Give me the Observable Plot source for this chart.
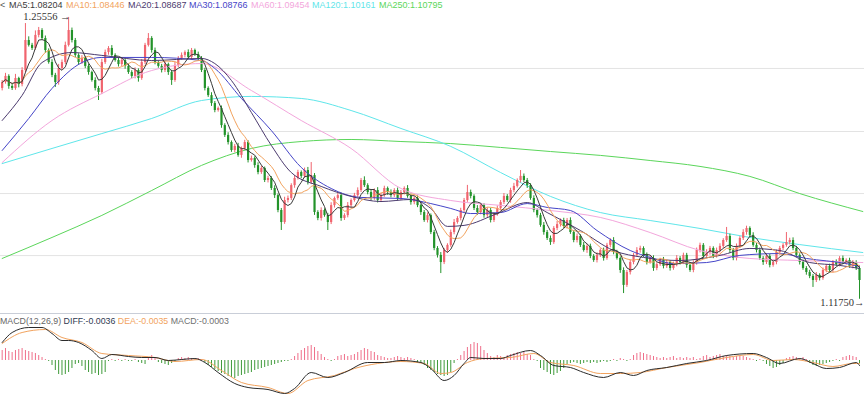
<!DOCTYPE html>
<html><head><meta charset="utf-8">
<script src="https://cdn.jsdelivr.net/npm/d3@7"></script>
<script src="https://cdn.jsdelivr.net/npm/@observablehq/plot@0.6"></script>
<style>
body{margin:0;background:#fff;}
#wrap{position:relative;width:864px;height:395px;overflow:hidden;font-family:"Liberation Sans",Arial,sans-serif;}
#main,#macd{width:864px;}
#macd{border-top:1px solid #c9ced8;}
svg{display:block;}
.lg{position:absolute;white-space:nowrap;}
#lgMain span{position:absolute;top:0;}
#lgMain{top:0;left:0;font-size:9px;line-height:10px;}
#lgMacd{top:316px;left:0;font-size:8.8px;line-height:10px;}
</style></head><body>
<div id="wrap">
  <div id="main"></div>
  <div id="macd"></div>
  <div class="lg" id="lgMain"></div>
  <div class="lg" id="lgMacd"></div>
</div>
<script>
// ---- price candles (units of 0.0001) ----
const firstOpen = 12208;
const closes = [
12237,12267,12218,12208,12257,12227,12296,12443,12419,12404,
12468,12492,12453,12394,12335,12272,12237,12306,12335,12419,
12492,12443,12370,12335,12355,12316,12286,12247,12208,12188,
12335,12384,12404,12370,12345,12325,12345,12316,12286,12267,
12296,12257,12335,12419,12453,12394,12335,12316,12296,12325,
12286,12247,12321,12355,12370,12384,12360,12394,12374,12355,
12296,12208,12173,12134,12100,12110,12026,11978,11943,11904,
11924,11880,11914,11943,11855,11865,11830,11796,11816,11757,
11767,11718,11683,11610,11551,11659,11669,11732,11767,11796,
11777,11806,11747,11781,11600,11571,11610,11585,11551,11634,
11669,11683,11571,11585,11634,11659,11683,11708,11757,11732,
11698,11669,11708,11659,11683,11718,11698,11683,11708,11669,
11698,11718,11679,11649,11669,11634,11600,11561,11585,11502,
11424,11390,11355,11414,11439,11502,11551,11571,11610,11659,
11698,11679,11620,11600,11634,11585,11610,11561,11590,11620,
11649,11679,11659,11708,11728,11757,11777,11757,11732,11669,
11610,11585,11537,11502,11473,11453,11522,11541,11561,11532,
11561,11502,11463,11483,11439,11414,11434,11385,11365,11390,
11414,11375,11439,11463,11404,11375,11316,11243,11306,11355,
11390,11414,11424,11390,11355,11375,11326,11345,11365,11336,
11355,11326,11345,11375,11355,11390,11341,11316,11355,11414,
11439,11385,11404,11424,11385,11414,11434,11463,11483,11414,
11375,11434,11473,11502,11522,11488,11439,11414,11375,11355,
11385,11341,11355,11404,11424,11439,11453,11463,11424,11390,
11355,11326,11306,11287,11267,11292,11277,11316,11336,11316,
11355,11345,11375,11355,11365,11336,11355,11326,11267];
const upperWick = [
10,15,8,12,20,6,14,83,18,10, 22,15,9,12,8,14,10,20,12,16, 64,12,10,8,14,9,11,7,13,10,
16,12,9,14,8,10,12,7,11,9, 13,8,15,10,24,9,12,8,10,14, 7,11,16,9,12,8,13,10,7,12,
9,11,8,14,10,7,12,9,13,8, 10,15,7,11,9,12,8,14,10,7, 11,9,13,8,10,16,12,9,14,11,
8,12,15,64,10,9,13,8,11,14, 7,10,12,9,15,8,11,13,10,18, 9,12,8,14,10,11,7,13,9,12,
10,8,14,11,9,12,7,10,13,8, 11,9,14,10,8,12,15,9,11,10, 35,12,8,14,10,9,13,11,8,12,
10,14,9,11,15,8,29,12,10,9, 13,8,11,14,10,12,9,15,8,11, 10,13,9,12,8,14,10,11,9,13,
8,12,10,9,14,11,8,13,10,12, 9,14,11,8,12,10,13,9,11,15, 10,8,12,14,9,11,10,13,8,12,
11,9,14,10,8,12,13,9,44,11, 10,12,9,14,11,8,13,10,12,9, 14,11,8,12,10,9,49,11,13,10,
8,12,9,11,10,14,8,12,9,11, 10,13,9,12,8,11,10,9,12];
const lowerWick = [
12,8,14,10,9,16,11,13,8,10, 9,12,10,14,8,11,24,13,9,10, 8,12,10,14,9,11,13,8,12,39,
10,9,13,11,8,12,10,14,9,11, 12,18,9,10,8,13,11,9,12,10, 14,24,9,11,8,12,10,13,9,11,
10,12,9,14,11,8,13,10,12,9, 11,9,14,10,12,8,13,11,9,10, 12,10,14,11,39,9,12,10,13,8,
11,9,12,10,14,11,13,8,39,10, 12,9,14,10,11,13,8,12,10,9, 11,13,9,12,10,8,14,11,9,12,
10,12,9,13,11,10,14,9,12,10, 11,13,54,10,12,9,11,8,12,10, 9,12,10,14,11,13,9,12,10,8,
12,10,9,13,11,8,12,10,14,9, 11,12,9,13,10,14,9,11,12,10, 13,9,11,12,10,8,14,11,9,12,
10,13,9,12,11,8,14,40,10,12, 11,9,13,10,12,8,14,11,9,12, 10,13,9,11,12,10,14,9,11,13,
12,10,9,13,11,8,12,10,9,14, 11,12,9,10,13,11,9,12,10,14, 10,12,9,11,13,10,9,12,11,10,
12,9,13,11,34,10,12,9,11,10, 12,9,11,10,13,9,12,10,92];

// ---- longer moving averages: [candle index, price*1e4] ----
const ma20 = [[0,12051],[6,12174],[12,12335],[21,12384],[30,12370],[45,12345],[60,12355],[64,12330],[69,12247],[75,12090],[81,11929],[87,11796],[96,11728],[105,11679],[114,11654],[123,11664],[129,11620],[134,11532],[139,11537],[149,11595],[158,11649],[164,11600],[174,11512],[184,11414],[193,11380],[204,11365],[216,11390],[225,11424],[234,11414],[243,11355],[252,11341],[258,11326]];
const ma30 = [[0,11904],[8,12061],[15,12208],[24,12335],[30,12360],[45,12360],[60,12345],[64,12306],[72,12159],[81,12002],[90,11821],[99,11718],[108,11674],[120,11669],[129,11644],[135,11620],[141,11595],[150,11600],[158,11644],[164,11625],[171,11610],[179,11512],[189,11414],[195,11380],[202,11350],[212,11355],[222,11390],[234,11399],[242,11375],[254,11350],[258,11336]];
const ma60 = [[0,11845],[15,12051],[30,12183],[45,12296],[60,12330],[75,12198],[90,12051],[105,11914],[120,11718],[135,11659],[150,11635],[165,11610],[180,11576],[195,11502],[210,11414],[225,11375],[240,11365],[259,11355]];
const ma120 = [[0,11840],[15,11914],[30,11987],[45,12061],[60,12149],[75,12169],[90,12159],[105,12100],[120,12012],[135,11924],[150,11796],[165,11679],[180,11600],[195,11561],[210,11522],[225,11478],[240,11443],[259,11404]];
const ma250 = [[0,11375],[15,11478],[30,11586],[45,11708],[60,11831],[75,11914],[90,11948],[105,11958],[120,11948],[135,11938],[150,11919],[165,11899],[180,11880],[195,11855],[210,11826],[225,11777],[240,11693],[259,11605]];
const gridLevels = [1.2306, 1.1997, 1.1693, 1.1389];
const highMark = {i: 20, price: 1.25556, label: "1.25556 →"};
const lowMark = {i: 258, price: 1.1175, label: "1.11750→"};

// ---- MACD (units of 0.0001) ----
const diffLine = [[0,126],[3,196],[8,231],[12,231],[15,189],[18,140],[20,140],[23,126],[27,70],[30,14],[33,42],[38,28],[42,21],[46,21],[50,0],[54,7],[58,14],[61,-14],[65,-84],[70,-161],[74,-189],[80,-203],[85,-231],[88,-196],[93,-84],[98,-119],[103,-84],[110,-14],[115,-14],[120,0],[126,-14],[129,-56],[133,-140],[136,-105],[139,-21],[141,21],[145,14],[150,14],[153,35],[159,70],[162,35],[166,-35],[171,-49],[175,-84],[181,-119],[186,-84],[190,-105],[194,-70],[200,-49],[206,-21],[212,0],[218,35],[226,49],[230,21],[234,-21],[240,14],[244,-21],[248,-56],[252,-49],[257,-14],[258,-35]];
const deaLine = [[0,119],[6,196],[13,217],[18,161],[24,126],[30,49],[38,35],[46,21],[52,-7],[60,7],[66,-70],[72,-154],[80,-189],[86,-231],[92,-140],[100,-105],[106,-56],[113,-21],[120,-7],[127,-21],[132,-91],[135,-84],[140,-14],[145,14],[153,21],[160,49],[165,-14],[172,-35],[180,-91],[186,-91],[192,-84],[200,-49],[210,-14],[218,21],[226,42],[232,0],[238,7],[244,-14],[250,-42],[256,-21],[258,-21]];
const macdHist = [
70,84,63,56,70,77,84,70,63,56,49,35,21, 7,-7, -35,-70,-98,-105,-98,-84, -56,-28,-21,
-42,-70,-84,-98,-91,-105,-98,-84, -7,7,-7,7,-7,7,-7,-7,7, -14,-21,-28, 21,35,21,
-14,-21,-28,-35,-21,-14, 14,21,14,21,14,7,14,7,
-14,-35,-49,-63,-77,-91,-98,-112,-119,-126,-112,-105,
-98,-91,-84,-70,-63,-56,-49,-42,-35,-28,-21,-14,-7, -7,7,
28,49,70,84,98,105,91, 63,42,21,7, -7,7, 28,35,42,28,35,42, 56,70,84,77,63,56,
35,28,21,14, 14,21,28,21,14,21,14,7, -14,-21,-35,-56,-70,-84,-98,-105, -112,-105,-84, -21,7,
35,63,91,112,126,119,98,70,49, 28,21,35,28,21, 35,42,49,56,49,56,42,35, 7,-7,
-56,-70,-84,-98,-105,-91,-77,-56, -28,-21,-14,-21,-28,-21,-14,-21,-14,-21,-14,-7,-14,-7,
7,-7,14,7,-7,7, 35,49,56,49,42,35,28,21, 14,21,14,21,28,14,21,14,21,14,21,7,
14,28,35,21,28,35,42,28,35,28,21,28,35,28,21,14, 7,-7,7,-7, -28,-42,-56,-49,-35,-21,
14,21,28,21,14,21,7, -21,-35,-42,-35,-28,-21,-14, -7,7,-7, 21,28,35,28,21, -21];

// ---- legend texts ----
const maLabels = ["MA5:1.08204","MA10:1.08446","MA20:1.08687","MA30:1.08766","MA60:1.09454","MA120:1.10161","MA250:1.10795"];
const maColors = ["#3a3a3a","#f2a35e","#4b3a6e","#4545c8","#f3a6dc","#5fe6ea","#5bd65b"];
const macdLabels = ["MACD(12,26,9)","DIFF:-0.0036","DEA:-0.0035","MACD:-0.0003"];
const macdColors = ["#666666","#2f3a52","#f2a35e","#707070"];
// layout (pixel offsets of legend items)
const maLegendLeft = [9, 66, 128, 189, 251, 312, 379];

const UP = "#f0646e", DOWN = "#23932a";
const candles = closes.map((c, i) => {
  const o = i ? closes[i - 1] : firstOpen;
  const top = Math.max(o, c), bot = Math.min(o, c);
  return {
    i, open: o / 1e4, close: c / 1e4,
    high: (top + upperWick[i]) / 1e4, low: (bot - lowerWick[i]) / 1e4,
    bHi: (top === bot ? top + 0.6 : top) / 1e4, bLo: bot / 1e4,
    color: c >= o ? UP : DOWN
  };
});
const toPts = arr => arr.map(([i, v]) => ({i, v: v / 1e4}));
const xDom = [-0.5, 259.5];
const maLine = (arr, color) => Plot.line(toPts(arr), {x: "i", y: "v", stroke: color, strokeWidth: 1, curve: "monotone-x"});
const markFont = "Liberation Serif, DejaVu Sans, serif";

const mainChart = Plot.plot({
  width: 864, height: 313, margin: 0,
  x: {domain: xDom, axis: null},
  y: {domain: [1.11053, 1.2639], axis: null},
  marks: [
    Plot.ruleY(gridLevels, {stroke: "#e3e3e3", strokeWidth: 1}),
    maLine(ma250, maColors[6]),
    maLine(ma120, maColors[5]),
    Plot.ruleX(candles, {x: "i", y1: "low", y2: "high", stroke: "color", strokeWidth: 1}),
    Plot.ruleX(candles, {x: "i", y1: "bLo", y2: "bHi", stroke: "color", strokeWidth: 2.2}),
    maLine(ma60, maColors[4]),
    maLine(ma30, maColors[3]),
    maLine(ma20, maColors[2]),
    Plot.line(candles, Plot.windowY({k: 10, anchor: "end", reduce: "mean"}, {x: "i", y: "close", stroke: maColors[1], strokeWidth: 1})),
    Plot.line(candles, Plot.windowY({k: 5, anchor: "end", reduce: "mean"}, {x: "i", y: "close", stroke: maColors[0], strokeWidth: 1})),
    Plot.text([highMark], {x: "i", y: "price", text: "label", textAnchor: "end", dx: 2, dy: -1, fontSize: 10.5, fontFamily: markFont, fill: "#333"}),
    Plot.text([lowMark], {x: "i", y: "price", text: "label", textAnchor: "end", dx: 5, dy: 3, fontSize: 10.5, fontFamily: markFont, fill: "#333"})
  ]
});
document.getElementById("main").appendChild(mainChart);

const macdChart = Plot.plot({
  width: 864, height: 81, margin: 0,
  x: {domain: xDom, axis: null},
  y: {domain: [-245, 322], axis: null},
  marks: [
    Plot.ruleX(macdHist, {x: (d, i) => i, y1: () => 0, y2: d => d, stroke: d => d >= 0 ? "#ef6f8a" : "#3f9a3a", strokeWidth: 1}),
    Plot.line(deaLine, {x: d => d[0], y: d => d[1], stroke: "#f2a35e", strokeWidth: 1, curve: "monotone-x"}),
    Plot.line(diffLine, {x: d => d[0], y: d => d[1], stroke: "#2b2b2b", strokeWidth: 1, curve: "monotone-x"})
  ]
});
document.getElementById("macd").appendChild(macdChart);

const lgMain = document.getElementById("lgMain");
lgMain.innerHTML = '<span style="left:0;color:#555">&lt;</span>' +
  maLabels.map((t, k) => `<span style="left:${maLegendLeft[k]}px;color:${maColors[k]}">${t}</span>`).join("");
const lgMacd = document.getElementById("lgMacd");
lgMacd.innerHTML = macdLabels.map((t, k) => `<span style="color:${macdColors[k]}">${t}</span>`).join(" ");
</script>
</body></html>
